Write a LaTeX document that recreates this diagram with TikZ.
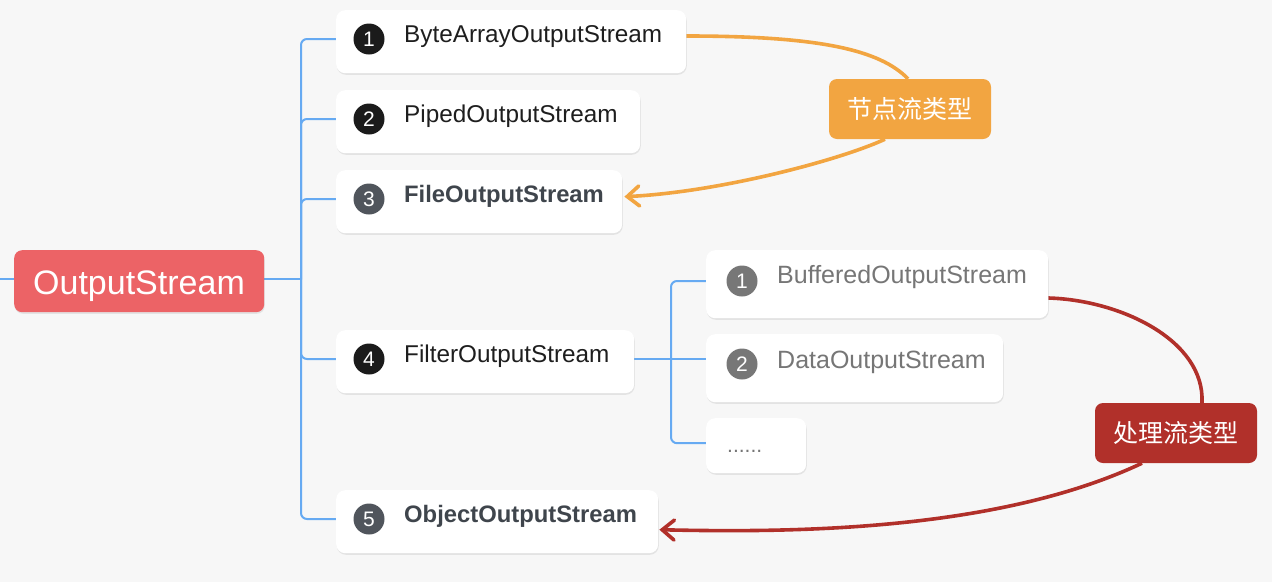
\documentclass[tikz,border=0pt]{standalone}
\usepackage{fontspec}
\setmainfont{Liberation Sans}
\newfontfamily\cjkfont{Noto Sans CJK SC}
\usetikzlibrary{arrows.meta,shadows,calc}
\definecolor{bgcol}{HTML}{F7F7F7}
\definecolor{bluec}{HTML}{66AAF2}
\definecolor{rootred}{HTML}{EC6366}
\definecolor{orangec}{HTML}{F2A541}
\definecolor{darkredc}{HTML}{B1302A}
\definecolor{bdark}{HTML}{1B1B1B}
\definecolor{bgray}{HTML}{50555C}
\definecolor{bsub}{HTML}{777777}
\definecolor{textdark}{HTML}{1E1E1E}
\definecolor{textgray}{HTML}{3F454C}
\definecolor{subgray}{HTML}{767676}
\pgfdeclarelayer{back}
\pgfdeclarelayer{lines}
\pgfsetlayers{back,lines,main}
\begin{document}
\begin{tikzpicture}[x=1pt,y=-1pt,
  box/.style={fill=white, rounded corners=9pt, anchor=north west, inner sep=0pt,
    minimum height=63pt,
    drop shadow={shadow xshift=0.6pt,shadow yshift=-1.6pt,opacity=0.16}},
  rootbox/.style={fill=rootred, rounded corners=8pt, anchor=north west, inner sep=0pt,
    drop shadow={shadow xshift=0.6pt,shadow yshift=-1.6pt,opacity=0.16}},
  roottxt/.style={inner sep=0pt, text=white, font=\fontsize{34}{40}\selectfont},
  badge/.style={circle, minimum size=31pt, inner sep=0pt, text=white,
    font=\fontsize{21}{21}\selectfont},
  txt/.style={anchor=base west, inner sep=0pt, text=textdark,
    font=\fontsize{24.3}{29}\selectfont},
  txtb/.style={txt, text=textgray, font=\fontsize{23.8}{29}\selectfont\bfseries},
  subtxt/.style={txt, text=subgray, font=\fontsize{25}{29}\selectfont},
  lab/.style={minimum width=162pt, minimum height=60pt, rounded corners=8pt,
    inner sep=0pt, text=white, font=\cjkfont\fontsize{25}{25}\selectfont},
  conn/.style={draw=bluec, line width=2pt},
  ocurve/.style={draw=orangec, line width=3.6pt},
  rcurve/.style={draw=darkredc, line width=3.6pt},
  tip/.style={-{Straight Barb[length=12pt,width=20pt,line cap=round]}}
]
\begin{pgfonlayer}{back}
\fill[bgcol] (0,0) rectangle (1272,582);
\end{pgfonlayer}
\useasboundingbox (0,0) rectangle (1272,582);

% root
\node[rootbox, minimum width=250pt, minimum height=62pt] (root) at (14,250) {};
\node[roottxt, anchor=base] (roottext) at (139,294) {OutputStream};

% children
\node[box, minimum width=350pt] (c1) at (336,10) {};
\node[badge, fill=bdark] (n1) at (369,39) {1};
\node[txt] (t1) at (404,42) {ByteArrayOutputStream};

\node[box, minimum width=304pt] (c2) at (336,90) {};
\node[badge, fill=bdark] (n2) at (369,119) {2};
\node[txt] (t2) at (404,122) {PipedOutputStream};

\node[box, minimum width=286pt] (c3) at (336,170) {};
\node[badge, fill=bgray] (n3) at (369,199) {3};
\node[txtb] (t3) at (404,202.5) {FileOutputStream};

\node[box, minimum width=298pt] (c4) at (336,330) {};
\node[badge, fill=bdark] (n4) at (369,359) {4};
\node[txt] (t4) at (404,362) {FilterOutputStream};

\node[box, minimum width=322pt] (c5) at (336,490) {};
\node[badge, fill=bgray] (n5) at (369,519) {5};
\node[txtb] (t5) at (404,522) {ObjectOutputStream};

% sub children
\node[box, minimum width=342pt, minimum height=68pt] (d1) at (706,250) {};
\node[badge, fill=bsub] (m1) at (742,281) {1};
\node[subtxt] (s1) at (777,283) {BufferedOutputStream};

\node[box, minimum width=297pt, minimum height=68pt] (d2) at (706,334) {};
\node[badge, fill=bsub] (m2) at (742,364) {2};
\node[subtxt] (s2) at (777,368) {DataOutputStream};

\node[box, minimum width=100pt, minimum height=55pt] (d3) at (706,418) {};
\node[subtxt, font=\fontsize{21}{25}\selectfont] (s3) at (727,452) {......};

% labels
\node[lab, fill=orangec] (lbl1) at (910,109) {节点流类型};
\node[lab, fill=darkredc] (lbl2) at (1176,433) {处理流类型};

\begin{pgfonlayer}{lines}
\coordinate (lend) at (0,279);
\coordinate (spine) at (301,279);
\draw[conn] (lend) -- (root.west |- lend);
\draw[conn] (root.east |- spine) -- (spine);
\draw[conn, rounded corners=6pt] (spine) |- (n1 -| c1.west);
\draw[conn, rounded corners=6pt] (spine) |- (n2 -| c2.west);
\draw[conn, rounded corners=6pt] (spine) |- (n3 -| c3.west);
\draw[conn, rounded corners=6pt] (spine) |- (n4 -| c4.west);
\draw[conn, rounded corners=6pt] (spine) |- (n5 -| c5.west);

\coordinate (sub) at (671,359);
\draw[conn] (n4 -| c4.east) -- (n4 -| d2.west);
\draw[conn, rounded corners=6pt] (sub) |- (m1 -| d1.west);
\draw[conn, rounded corners=6pt] (sub) |- ($(d3.west)+(0,-2.5)$);

\draw[ocurve] ($(c1.north east)+(0,26)$) .. controls (820,36) and (880,50) .. ($(lbl1.north)+(-2,0)$);
\draw[ocurve, tip] ($(lbl1.south)+(-25,0)$) .. controls (840,160) and (720,192) .. ($(c3.east)+(2,-5)$);

\draw[rcurve] ($(d1.north east)+(0,48)$) .. controls (1120,300) and (1205,340) .. ($(lbl2.north)+(26,0)$);
\draw[rcurve, tip] ($(lbl2.south)+(-34,0)$) .. controls (1000,530) and (800,533) .. ($(c5.east)+(1,8)$);
\end{pgfonlayer}
\end{tikzpicture}
\end{document}
